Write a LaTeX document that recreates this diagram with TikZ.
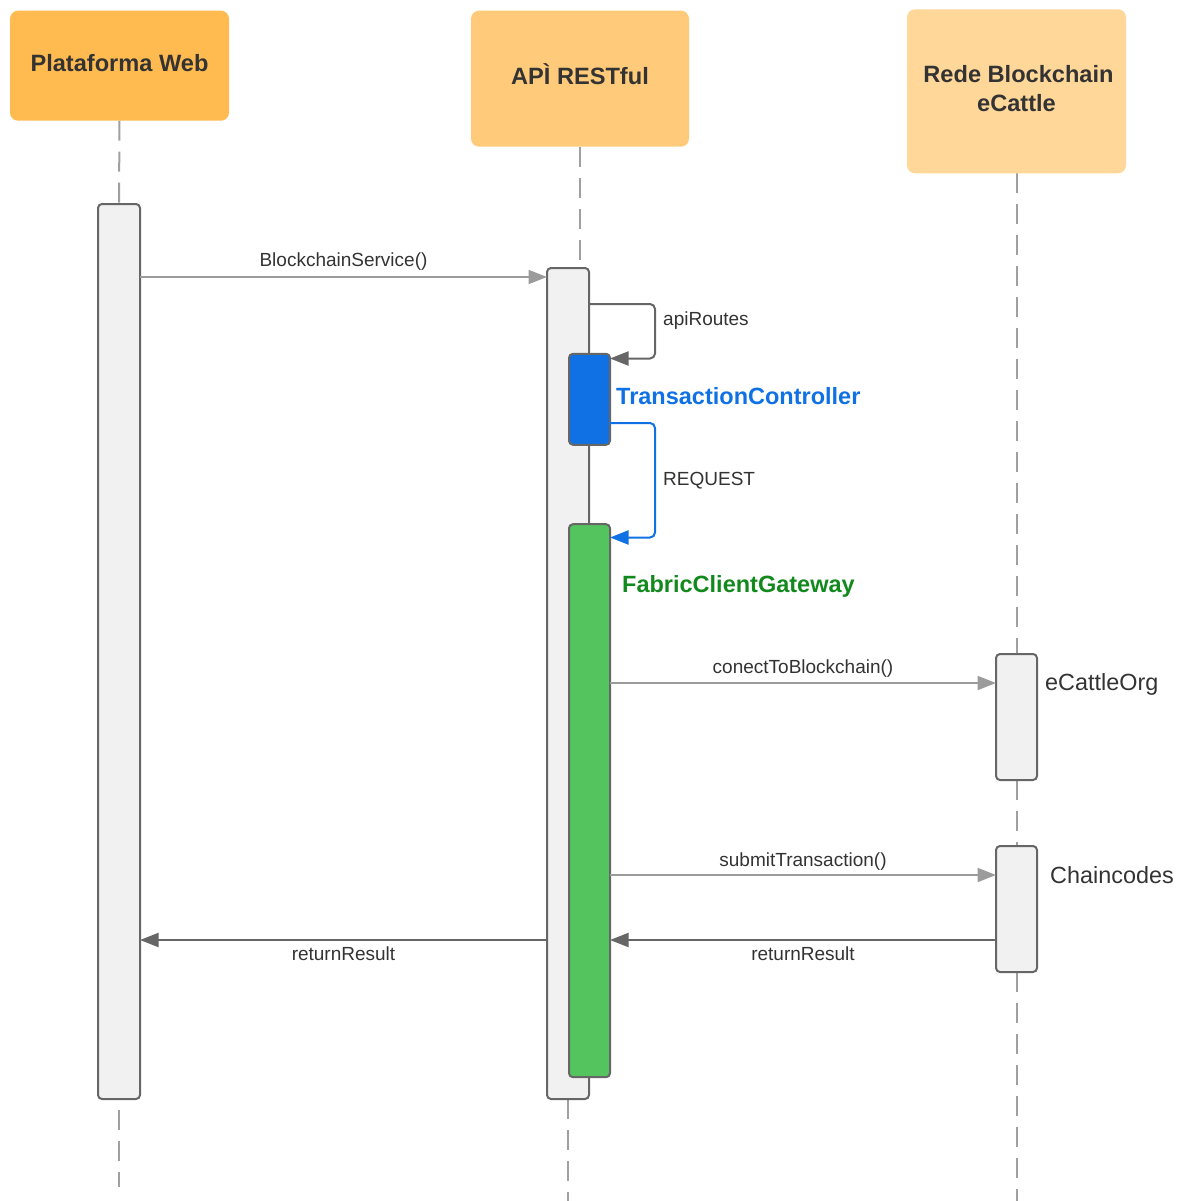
\documentclass[tikz,border=0pt]{standalone}
\usepackage{fontspec}
\setmainfont{Liberation Sans}
\usetikzlibrary{arrows.meta,backgrounds}

\definecolor{hdrA}{HTML}{FFBB50}
\definecolor{hdrB}{HTML}{FFCB7A}
\definecolor{hdrC}{HTML}{FFD799}
\definecolor{ink}{HTML}{333333}
\definecolor{boxfill}{HTML}{F1F1F1}
\definecolor{boxline}{HTML}{666666}
\definecolor{lifegray}{HTML}{A0A0A0}
\definecolor{callgray}{HTML}{9B9B9B}
\definecolor{replygray}{HTML}{666666}
\definecolor{tcblue}{HTML}{1071E5}
\definecolor{fcgreen}{HTML}{54C45E}
\definecolor{fctext}{HTML}{12891C}

\begin{document}
\begin{tikzpicture}[x=1pt,y=-1pt,
  header/.style={rectangle, rounded corners=8pt, inner sep=0pt, outer sep=0pt,
    text=ink, align=center, font=\bfseries\fontsize{23.6}{28.3}\selectfont},
  actbox/.style={rectangle, rounded corners=4pt, draw=boxline, line width=2pt,
    fill=boxfill, inner sep=0pt, outer sep=0pt},
  lifeline/.style={draw=lifegray, line width=2pt, dash pattern=on 20pt off 11pt},
  tip/.style={-{Triangle[length=18.5pt,width=14pt]}},
  call/.style={tip, draw=callgray, line width=2pt},
  reply/.style={tip, draw=replygray, line width=2pt},
  msg/.style={text=ink, inner sep=0pt, font=\fontsize{19}{22}\selectfont},
  partlbl/.style={inner sep=0pt, anchor=base west, font=\bfseries\fontsize{23.5}{28}\selectfont},
  orglbl/.style={text=ink, inner sep=0pt, anchor=base west, font=\fontsize{23.4}{27}\selectfont}
]
\useasboundingbox (0,0) rectangle (1186,1201);

% participants
\node[header, fill=hdrA, minimum width=219pt, minimum height=110pt] (pwh) at (119.5,65.7) {Plataforma Web\strut};
\node[header, fill=hdrB, minimum width=218pt, minimum height=136pt] (apih) at (580,78.7) {APÌ RESTful\strut};
\node[header, fill=hdrC, minimum width=219pt, minimum height=164pt] (redeh) at (1016.5,91.3) {\hspace*{4pt}Rede Blockchain\strut\\eCattle\strut};

% free ends of the lifelines
\coordinate (pwend) at (119,1187);
\coordinate (apiend) at (568,1201);
\coordinate (redeend) at (1016.5,1201);

% message levels and the loop column
\coordinate (yBS) at (0,277);
\coordinate (yAR1) at (0,304);
\coordinate (yAR2) at (0,358.5);
\coordinate (yRQ1) at (0,423);
\coordinate (yRQ2) at (0,537.5);
\coordinate (yCB) at (0,683);
\coordinate (yST) at (0,875);
\coordinate (yRR) at (0,940);
\coordinate (xLoop) at (655,0);

% activation boxes
\node[actbox, minimum width=42pt, minimum height=895pt] (pwb) at (119,651.5) {};
\node[actbox, minimum width=42pt, minimum height=831pt] (apib) at (568,683.5) {};
\node[actbox, minimum width=41pt, minimum height=126pt] (org) at (1016.5,717) {};
\node[actbox, minimum width=41pt, minimum height=126pt] (cc) at (1016.5,909) {};
\node[actbox, fill=tcblue, minimum width=41pt, minimum height=91pt] (tcb) at (589.5,399.3) {};
\node[actbox, fill=fcgreen, minimum width=41pt, minimum height=553pt] (fcg) at (589.5,800.7) {};

% lifelines behind the boxes
\begin{scope}[on background layer]
\draw[lifeline] (pwh.south) -- (pwb.north);
\draw[lifeline, dash phase=20pt] (pwb.south) -- (pwend);
\draw[lifeline] (apih.south) -- (apih.south |- apib.north);
\draw[lifeline] (apib.south) -- (apiend);
\draw[lifeline] (redeh.south) -- (org.north);
\draw[lifeline] (org.south) -- (cc.north);
\draw[lifeline] (cc.south) -- (redeend);
\end{scope}

% messages
\draw[call] (pwb.east |- yBS) -- (apib.west |- yBS)
  node[msg, midway, anchor=base, yshift=11pt] {BlockchainService()};

\draw[reply, rounded corners=5pt] (apib.east |- yAR1) -- (xLoop |- yAR1) -- (xLoop |- yAR2) -- (tcb.east |- yAR2);
\node[msg, anchor=base west] (arlbl) at (663,325) {apiRoutes};

\draw[tip, draw=tcblue, line width=2pt, rounded corners=5pt]
  (tcb.east |- yRQ1) -- (xLoop |- yRQ1) -- (xLoop |- yRQ2) -- (fcg.east |- yRQ2);
\node[msg, anchor=base west] (rqlbl) at (663,485) {REQUEST};

\node[partlbl, text=tcblue] (tclbl) at (616,404) {TransactionController};
\node[partlbl, text=fctext] (fclbl) at (622,592) {FabricClientGateway};

\draw[call] (fcg.east |- yCB) -- (org.west |- yCB)
  node[msg, midway, anchor=base, yshift=10pt] {conectToBlockchain()};
\node[orglbl] (orglbl) at (1045,690) {eCattleOrg};

\draw[call] (fcg.east |- yST) -- (cc.west |- yST)
  node[msg, midway, anchor=base, yshift=9pt] {submitTransaction()};
\node[orglbl] (cclbl) at (1050,883) {Chaincodes};

\draw[reply] (cc.west |- yRR) -- (fcg.east |- yRR)
  node[msg, midway, anchor=base, yshift=-20pt] {returnResult};
\draw[reply] (apib.west |- yRR) -- (pwb.east |- yRR)
  node[msg, midway, anchor=base, yshift=-20pt] {returnResult};
\end{tikzpicture}
\end{document}
